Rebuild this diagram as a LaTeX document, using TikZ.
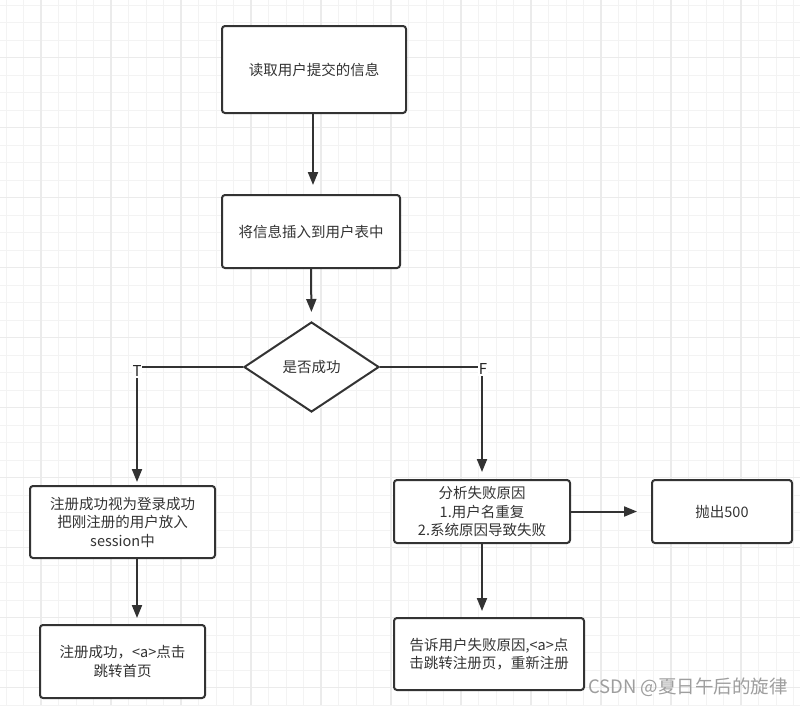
\documentclass[tikz,border=0pt]{standalone}
\usepackage{fontspec}
\setmainfont{Noto Sans CJK SC}
\usetikzlibrary{shapes.geometric,arrows.meta}
\definecolor{ink}{HTML}{333333}
\definecolor{gridminor}{HTML}{F3F3F3}
\definecolor{gridmajor}{HTML}{EBEBEB}
\begin{document}
\begin{tikzpicture}[x=1pt,y=-1pt,
  box/.style={draw=ink,line width=2pt,rounded corners=3pt,fill=white,align=center,
    text=ink,font=\fontsize{14.5}{18.5}\selectfont,inner sep=2pt},
  dia/.style={diamond,draw=ink,line width=2pt,fill=white,text=ink,
    font=\fontsize{14.5}{18.5}\selectfont,inner sep=0pt},
  conn/.style={draw=ink,line width=2pt},
  arr/.style={conn,-{Triangle[width=10pt,length=13pt]}},
  lab/.style={fill=white,text=black!85,font=\fontsize{15}{17}\selectfont,inner sep=1pt}]
\useasboundingbox (0,0) rectangle (800,705);
\fill[white] (0,0) rectangle (800,705);
% grid
\foreach \gx in {6,23.5,...,800} \draw[gridminor,line width=1pt] (\gx,0) -- (\gx,705);
\foreach \gy in {5,22.5,...,705} \draw[gridminor,line width=1pt] (0,\gy) -- (800,\gy);
\foreach \gx in {41,111,...,800} \draw[gridmajor,line width=1.2pt] (\gx,0) -- (\gx,705);
\foreach \gy in {57.5,127.5,...,705} \draw[gridmajor,line width=1.2pt] (0,\gy) -- (800,\gy);
% nodes
\node[box,minimum width=184pt,minimum height=87pt] (read) at (314,69.5) {读取用户提交的信息};
\node[box,minimum width=178pt,minimum height=73pt] (insert) at (311,231.5) {将信息插入到用户表中};
\node[dia,minimum width=135pt,minimum height=90pt] (ok) at (311.5,367) {是否成功};
\node[box,minimum width=185pt,minimum height=72pt] (succ) at (122.5,522) {注册成功视为登录成功\\把刚注册的用户放入\\session中};
\node[box,minimum width=176pt,minimum height=63pt] (anal) at (482,511.5) {分析失败原因\\1.用户名重复\\2.系统原因导致失败};
\node[box,minimum width=140pt,minimum height=63pt] (throw) at (722,511.5) {抛出500};
\node[box,minimum width=190pt,minimum height=72pt] (tell) at (489,654) {告诉用户失败原因,<a>点\\击跳转注册页，重新注册};
\node[box,minimum width=165pt,minimum height=73pt] (home) at (122.5,661.5) {注册成功，<a>点击\\跳转首页};
% helper coordinates
\coordinate (tc) at (137,367);
\coordinate (fc) at (482,367);
\coordinate (sb) at (137,558);
% connectors
\draw[arr,shorten >=10pt] (313,113) -- (313,195);
\draw[arr,shorten >=9pt] (insert.south) -- (ok.north);
\draw[conn] (ok.west) -- (tc);
\draw[arr,shorten >=3pt] (tc) -- (tc |- succ.north);
\node[lab] (tl) at (137,371) {T};
\draw[conn] (ok.east) -- (fc);
\draw[arr,shorten >=7pt] (fc) -- (fc |- anal.north);
\node[lab] (fl) at (483,369) {F};
\draw[arr,shorten >=14pt] (anal.east) -- (throw.west);
\draw[arr,shorten >=6pt] (anal.south) -- (anal.south |- tell.north);
\draw[arr,shorten >=6pt] (sb) -- (sb |- home.north);
% watermark
\node[anchor=east,text=black!38,font=\fontsize{18.5}{20}\selectfont,inner sep=0pt] (wm) at (788,687) {CSDN @夏日午后的旋律};
\end{tikzpicture}
\end{document}
